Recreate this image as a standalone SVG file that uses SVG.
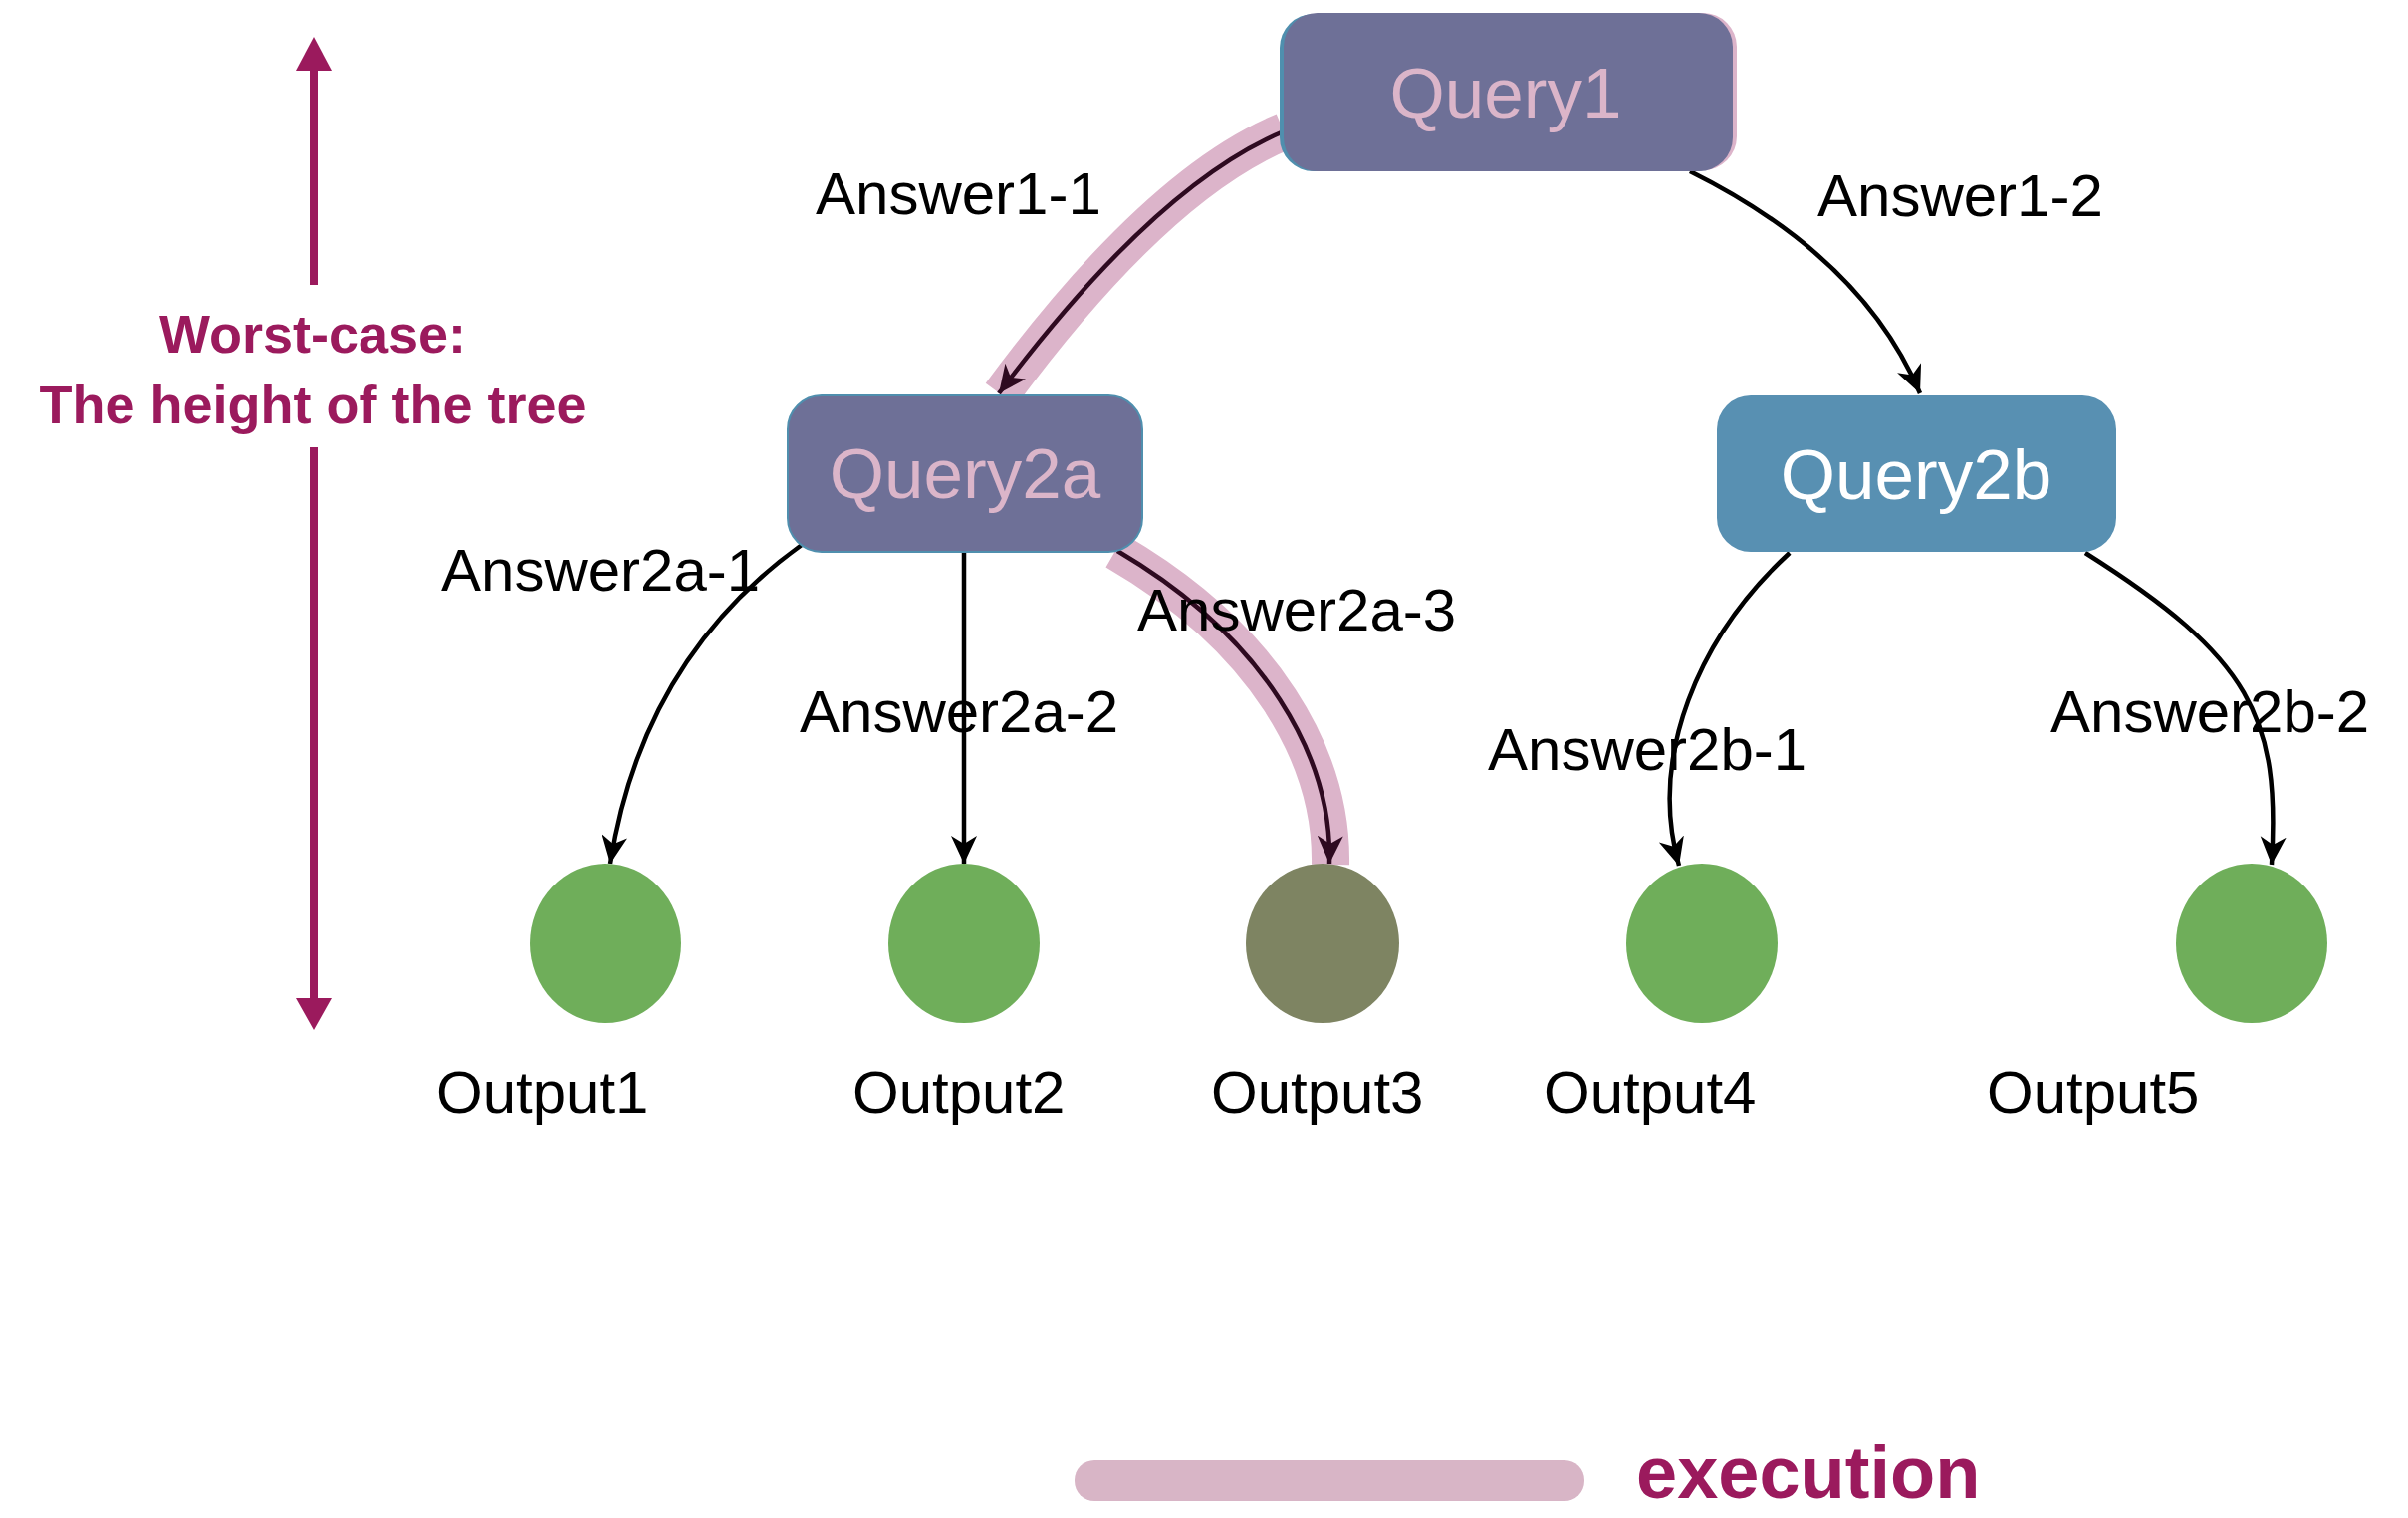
<svg xmlns="http://www.w3.org/2000/svg" width="2418" height="1524" viewBox="0 0 2418 1524">
  <defs>
    <style>
      .lbl { font-family: "Liberation Sans", Arial, sans-serif; font-size: 60px; fill: #000; }
      .qtxt { font-family: "Liberation Sans", Arial, sans-serif; font-size: 71px; text-anchor: middle; }
      .purple { fill: #6e7097; }
      .blue { fill: #5890b2; }
      .green { fill: #6fae5a; }
      .olive { fill: #7e8462; }
      .edge { fill: none; stroke: #000; stroke-width: 4.5; }
      .edge-hl { fill: none; stroke: #2e0a20; stroke-width: 4.5; }
      .band { fill: none; stroke: #dcb4ca; stroke-width: 38; stroke-linecap: butt; }
      .worst { fill: #9b1a5d; }
      .wtxt { font-family: "Liberation Sans", Arial, sans-serif; font-weight: bold; font-size: 54px; fill: #9b1a5d; text-anchor: middle; }
    </style>
    <marker id="arr" markerUnits="userSpaceOnUse" markerWidth="32" markerHeight="28" refX="28" refY="13" orient="auto" viewBox="0 0 32 28">
      <path d="M28 13 L0 0 L8 13 L0 26 Z" fill="#000"/>
    </marker>
    <marker id="arrh" markerUnits="userSpaceOnUse" markerWidth="32" markerHeight="28" refX="28" refY="13" orient="auto" viewBox="0 0 32 28">
      <path d="M28 13 L0 0 L8 13 L0 26 Z" fill="#2e0a20"/>
    </marker>
  </defs>
  <rect x="0" y="0" width="2418" height="1524" fill="#fff"/>

  <!-- worst-case height indicator -->
  <g id="height-indicator">
    <rect class="worst" x="311" y="70" width="8" height="216"/>
    <path class="worst" d="M315 37 L297 71 L333 71 Z"/>
    <rect class="worst" x="311" y="449" width="8" height="556"/>
    <path class="worst" d="M315 1034 L297 1002 L333 1002 Z"/>
    <text class="wtxt" x="314" y="354">Worst-case:</text>
    <text class="wtxt" x="314" y="425">The height of the tree</text>
  </g>

  <!-- connectors -->
  <g id="connectors">
    <path class="band" d="M1289 132 Q1161 185 1005 396"/>
    <path class="band" d="M1120 553 C1270 640 1338 760 1336 868"/>
    <path class="edge-hl" d="M1289 132 Q1161 185 1003 395" marker-end="url(#arrh)"/>
    <path class="edge" d="M1697 172 Q1870 258 1928 395" marker-end="url(#arr)"/>
    <path class="edge" d="M805 547 Q645 662 613 867" marker-end="url(#arr)"/>
    <path class="edge" d="M968 555 L968 867" marker-end="url(#arr)"/>
    <path class="edge-hl" d="M1122 553 C1270 640 1338 760 1335 867" marker-end="url(#arrh)"/>
    <path class="edge" d="M1797 555 C1705 640 1655 760 1686 869" marker-end="url(#arr)"/>
    <path class="edge" d="M2094 555 C2260 660 2290 720 2281 868" marker-end="url(#arr)"/>
  </g>

  <!-- nodes -->
  <g id="query1">
    <rect x="1285" y="14" width="451" height="158" rx="34" fill="#4f8fae"/>
    <rect x="1293" y="13" width="451" height="158" rx="34" fill="#dcb4ca"/>
    <rect class="purple" x="1289" y="13" width="451" height="159" rx="34"/>
    <text class="qtxt" x="1512" y="118" fill="#dbb5c9">Query1</text>
  </g>
  <g id="query2a">
    <rect class="purple" x="791" y="397" width="356" height="157" rx="34" stroke="#4f8fae" stroke-width="2"/>
    <text class="qtxt" x="969" y="500" fill="#dbb5c9">Query2a</text>
  </g>
  <g id="query2b">
    <rect class="blue" x="1724" y="397" width="401" height="157" rx="34"/>
    <text class="qtxt" x="1924" y="501" fill="#ffffff">Query2b</text>
  </g>
  <g id="output1">
    <ellipse class="green" cx="608" cy="947" rx="76" ry="80"/>
    <text class="lbl" x="438" y="1117">Output1</text>
  </g>
  <g id="output2">
    <ellipse class="green" cx="968" cy="947" rx="76" ry="80"/>
    <text class="lbl" x="856" y="1117">Output2</text>
  </g>
  <g id="output3">
    <ellipse class="olive" cx="1328" cy="947" rx="77" ry="80"/>
    <text class="lbl" x="1216" y="1117">Output3</text>
  </g>
  <g id="output4">
    <ellipse class="green" cx="1709" cy="947" rx="76" ry="80"/>
    <text class="lbl" x="1550" y="1117">Output4</text>
  </g>
  <g id="output5">
    <ellipse class="green" cx="2261" cy="947" rx="76" ry="80"/>
    <text class="lbl" x="1995" y="1117">Output5</text>
  </g>

  <!-- edge labels -->
  <g id="edge-labels">
    <text class="lbl" x="819" y="215">Answer1-1</text>
    <text class="lbl" x="1825" y="217">Answer1-2</text>
    <text class="lbl" x="443" y="593">Answer2a-1</text>
    <text class="lbl" x="803" y="735">Answer2a-2</text>
    <text class="lbl" x="1142" y="633">Answer2a-3</text>
    <text class="lbl" x="1494" y="773">Answer2b-1</text>
    <text class="lbl" x="2059" y="735">Answer2b-2</text>
  </g>

  <!-- legend -->
  <g id="legend">
    <rect x="1079" y="1466" width="512" height="41" rx="20" fill="#d8b5c6"/>
    <text x="1643" y="1504" font-family="'Liberation Sans', Arial, sans-serif" font-weight="bold" font-size="74" fill="#9b1a5d">execution</text>
  </g>
</svg>
